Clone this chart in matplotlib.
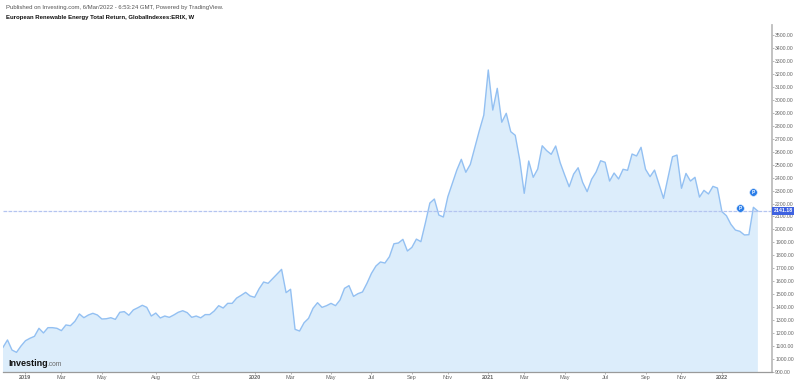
import pandas as pd
import matplotlib
matplotlib.use("Agg")
import matplotlib.pyplot as plt

# Weekly closes
values = [
    1088, 1145, 1067, 1049, 1098, 1139, 1158, 1173, 1235, 1199,
    1240, 1240, 1235, 1217, 1261, 1255, 1289, 1346, 1317, 1338,
    1351, 1338, 1307, 1309, 1317, 1304, 1359, 1364, 1336, 1377,
    1394, 1413, 1397, 1330, 1353, 1315, 1330, 1320, 1338, 1359,
    1371, 1356, 1320, 1330, 1316, 1341, 1341, 1369, 1410,
    1392, 1428, 1428, 1469, 1490, 1513, 1485, 1475, 1541, 1593,
    1583, 1619, 1655, 1691, 1511, 1537, 1227, 1214, 1278, 1312,
    1390, 1433, 1397, 1410, 1428, 1410, 1454, 1544, 1565, 1482,
    1503, 1516, 1583, 1660, 1717, 1748, 1740, 1789, 1889, 1895,
    1923, 1833, 1861, 1925, 1905, 2050, 2204, 2235, 2111, 2096,
    2253, 2357, 2459, 2542, 2442, 2503, 2634, 2763, 2884, 3233,
    2923, 3091, 2829, 2898, 2756, 2728, 2537, 2279, 2529, 2403,
    2467, 2647, 2609, 2581, 2645, 2516, 2421, 2330, 2428, 2477,
    2364, 2292, 2388, 2444, 2531, 2519, 2374, 2436, 2390, 2465,
    2457, 2583, 2568, 2635, 2465, 2408, 2459, 2349, 2240, 2400,
    2562, 2575, 2318, 2433, 2374, 2403, 2250, 2302, 2274, 2333,
    2320, 2137, 2106, 2039, 1995, 1985, 1957, 1959, 2171, 2141.18,
]
dates = pd.date_range("2018-12-10", periods=len(values), freq="7D")

tick_dates = pd.to_datetime([
    "2019-01-14", "2019-03-11", "2019-05-13", "2019-08-05", "2019-10-07",
    "2020-01-06", "2020-03-02", "2020-05-04", "2020-07-06", "2020-09-07", "2020-11-02",
    "2021-01-04", "2021-03-01", "2021-05-03", "2021-07-05", "2021-09-06", "2021-11-01",
    "2022-01-03",
])
tick_labels = ["2019", "Mar", "May", "Aug", "Oct",
               "2020", "Mar", "May", "Jul", "Sep", "Nov",
               "2021", "Mar", "May", "Jul", "Sep", "Nov",
               "2022"]
price_ticks = list(range(900, 3600, 100))

pin_dates = pd.to_datetime(["2022-01-31", "2022-02-21"])
pin_values = [2165, 2289]

last = values[-1]

W, H = 797, 383
plt.rcParams["font.family"] = ["Liberation Sans", "DejaVu Sans"]
fig = plt.figure(figsize=(W / 100, H / 100), dpi=100)
ax = fig.add_axes([3 / W, 1 - 372 / H, 769 / W, 347 / H])

ax.fill_between(dates, values, 0, color="#dcedfb", lw=0)
ax.plot(dates, values, color="#93c0f2", lw=1.0)
ax.axhline(last, color="#b4c4f0", lw=0.9, ls=(0, (3, 1)))
ax.scatter(pin_dates, pin_values, s=30, color="#2a7de8", edgecolor="#d6e6fb", lw=0.4, zorder=4)
for d, v in zip(pin_dates, pin_values):
    ax.text(d, v, "P", color="white", fontsize=3.5, fontweight="bold", ha="center", va="center", zorder=5)

ax.set_xlim(dates[0], dates[0] + pd.Timedelta(days=1198))
ax.set_ylim(897, 3581)

ax.yaxis.tick_right()
ax.set_yticks(price_ticks)
ax.set_yticklabels([f"{p:.2f}" for p in price_ticks])
ax.tick_params(axis="y", length=1.5, width=0.5, color="#999999", labelsize=3.7, labelcolor="#666666", pad=0.8)
ax.set_xticks(tick_dates)
ax.set_xticklabels(tick_labels)
ax.tick_params(axis="x", length=1.5, width=0.5, color="#999999", labelsize=4, labelcolor="#666666", pad=1)
for lab, txt in zip(ax.get_xticklabels(), tick_labels):
    if txt.isdigit():
        lab.set_fontweight("bold")

for s in ["top", "left"]:
    ax.spines[s].set_visible(False)
ax.spines["right"].set_color("#bdbdbd")
ax.spines["right"].set_linewidth(1.3)
ax.spines["bottom"].set_color("#9a9a9a")
ax.spines["bottom"].set_linewidth(0.9)

# last price tag on the axis
ax.annotate(f"{last:.2f}", xy=(1, last), xycoords=("axes fraction", "data"),
            xytext=(783, H - 211), textcoords="figure pixels",
            color="white", fontsize=3.7, fontweight="bold", ha="center", va="center",
            bbox=dict(boxstyle="square,pad=0.35", fc="#3f62e0", ec="none"), zorder=6)

fig.text(6 / W, 1 - 7.5 / H, "Published on Investing.com, 6/Mar/2022 - 6:53:24 GMT, Powered by TradingView.",
         fontsize=4.35, color="#555555", va="center")
fig.text(6 / W, 1 - 17.5 / H, "European Renewable Energy Total Return, GlobalIndexes:ERIX, W",
         fontsize=4.33, color="#111111", fontweight="bold", va="center")

# watermark
fig.text(8 / W, 1 - 363 / H, "Investing", fontsize=6.5, color="#111111", fontweight="bold", va="center")
fig.text(47.5 / W, 1 - 364 / H, ".com", fontsize=4.8, color="#666666", va="center")

# thin border at the right of the image
fig.add_artist(plt.Line2D([796.5 / W, 796.5 / W], [0, 1], color="#d0d0d0", lw=0.7))

fig.savefig("out.png", dpi=100)
